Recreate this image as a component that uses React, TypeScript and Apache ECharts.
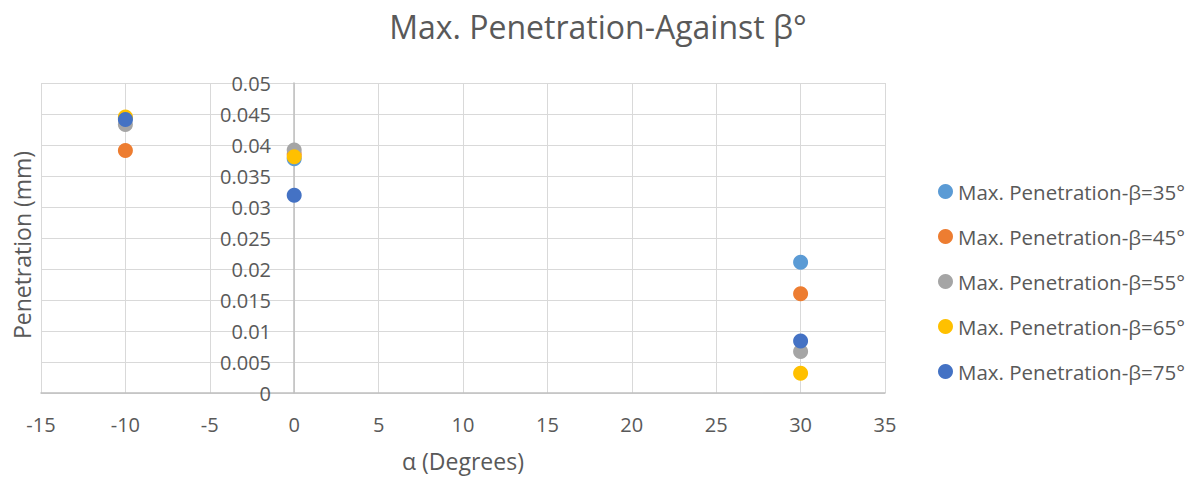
import React, { useEffect, useRef } from "react";
import * as echarts from "echarts";

const alphaValues = [-10, 0, 30];
const seriesNames = [
  "Max. Penetration-β=35°",
  "Max. Penetration-β=45°",
  "Max. Penetration-β=55°",
  "Max. Penetration-β=65°",
  "Max. Penetration-β=75°",
];
const beta35 = [0.0443, 0.0378, 0.0211];
const beta45 = [0.0391, 0.0385, 0.016];
const beta55 = [0.0433, 0.0392, 0.0067];
const beta65 = [0.0445, 0.0381, 0.0032];
const beta75 = [0.0441, 0.0319, 0.0084];
const seriesValues = [beta35, beta45, beta55, beta65, beta75];
const colors = ["#5B9BD5", "#ED7D31", "#A5A5A5", "#FFC000", "#4472C4"];

const FONT = "'Open Sans', 'Noto Sans', sans-serif";
const TXT = "#595959";

export default function App() {
  const ref = useRef<HTMLDivElement>(null);
  useEffect(() => {
    if (!ref.current) return;
    const chart = echarts.init(ref.current, undefined, { renderer: "svg" });
    chart.setOption({
      animation: false,
      color: colors,
      textStyle: { fontFamily: FONT, color: TXT },
      title: {
        text: "Max. Penetration-Against β°",
        left: 598,
        textAlign: "center",
        top: 8,
        padding: 0,
        textStyle: { fontFamily: FONT, fontSize: 32, fontWeight: "normal", color: TXT, lineHeight: 37 },
      },
      legend: {
        orient: "vertical",
        left: 938,
        top: 181,
        padding: 0,
        itemGap: 24,
        itemWidth: 15,
        itemHeight: 15,
        icon: "circle",
        textStyle: { fontFamily: FONT, fontSize: 20.5, color: TXT, lineHeight: 21 },
        data: seriesNames,
      },
      grid: { left: 41, right: 315, top: 83, bottom: 84, containLabel: false, outerBoundsMode: "none" },
      xAxis: {
        type: "value",
        min: -15,
        max: 35,
        interval: 5,
        name: "α (Degrees)",
        nameLocation: "middle",
        nameGap: 55,
        nameTextStyle: { fontFamily: FONT, fontSize: 23, color: TXT, lineHeight: 26 },
        axisLine: { onZero: false, lineStyle: { color: "#BFBFBF", width: 1.5 } },
        axisTick: { show: false },
        axisLabel: { fontFamily: FONT, fontSize: 20, color: TXT, margin: 21, lineHeight: 21 },
        splitLine: { show: true, lineStyle: { color: "#D9D9D9", width: 1 } },
      },
      yAxis: [
        {
          type: "value",
          min: 0,
          max: 0.05,
          interval: 0.005,
          axisLine: { show: true, onZero: true, lineStyle: { color: "#BFBFBF", width: 1.5 } },
          axisTick: { show: false },
          axisLabel: { show: false },
          splitLine: { show: true, lineStyle: { color: "#D9D9D9", width: 1 } },
        },
        {
          type: "value",
          position: "left",
          offset: -253,
          min: 0,
          max: 0.05,
          interval: 0.005,
          axisLine: { show: false },
          axisTick: { show: false },
          axisLabel: { fontFamily: FONT, fontSize: 20, color: TXT, margin: 23 },
          splitLine: { show: false },
        },
      ],
      graphic: [
        {
          type: "text",
          x: 22,
          y: 245,
          rotation: Math.PI / 2,
          style: {
            text: "Penetration (mm)",
            fontFamily: FONT,
            fontSize: 23,
            fill: TXT,
            textAlign: "center",
            textVerticalAlign: "middle",
          },
        },
      ],
      series: seriesNames.map((name, i) => ({
        name,
        type: "scatter",
        symbol: "circle",
        symbolSize: 15,
        yAxisIndex: 0,
        itemStyle: { color: colors[i], opacity: 1 },
        data: alphaValues.map((a, j) => [a, seriesValues[i][j]]),
      })),
    });
    return () => chart.dispose();
  }, []);
  return <div ref={ref} style={{ width: 1200, height: 477, position: "absolute", left: 0, top: 0 }} />;
}
